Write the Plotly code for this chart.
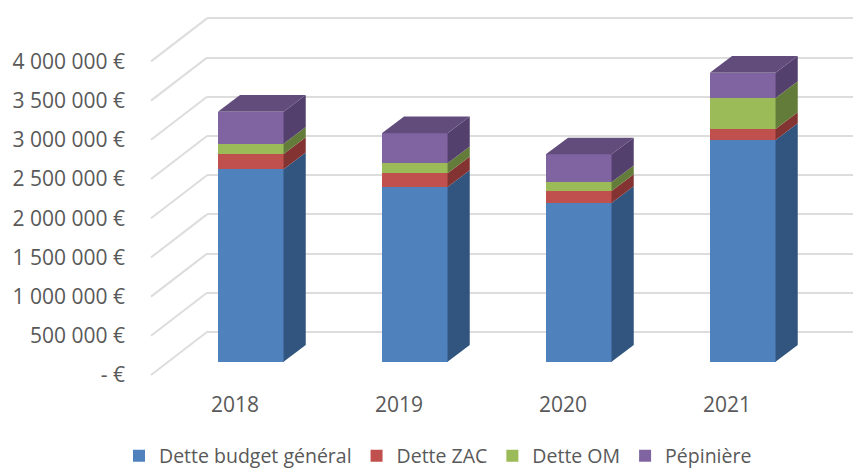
import numpy as np
import plotly.graph_objects as go

# ---- data ----
categories = ["2018", "2019", "2020", "2021"]
dette_budget = [2454000, 2228000, 2024000, 2828000]
dette_zac = [195000, 175000, 153000, 140000]
dette_om = [131000, 128000, 111000, 395000]
pepiniere = [408000, 383000, 357000, 323000]
tick_values = [0, 500000, 1000000, 1500000, 2000000, 2500000, 3000000, 3500000, 4000000]
tick_labels = ["- €", "500\u00a0000 €", "1\u00a0000\u00a0000 €", "1\u00a0500\u00a0000 €", "2\u00a0000\u00a0000 €",
               "2\u00a0500\u00a0000 €", "3\u00a0000\u00a0000 €", "3\u00a0500\u00a0000 €", "4\u00a0000\u00a0000 €"]

series = [
    ("Dette budget général", dette_budget, "#4F81BD", "#31557F", "#3A5F8C"),
    ("Dette ZAC", dette_zac, "#C0504D", "#833331", "#8E3B38"),
    ("Dette OM", dette_om, "#9BBB59", "#647C39", "#728A42"),
    ("Pépinière", pepiniere, "#8064A2", "#54406C", "#624C7C"),
]

# ---- chart geometry ----
W, H = 853, 470
K = 39.2 / 500000          # pixels per euro
X_UNIT = 164.0             # pixels per category
LABEL_X0 = 235.0           # pixel of the first category label
BAR_SHIFT = 15.7 / X_UNIT  # front face sits right of the label
BAR_W = 65.7 / X_UNIT
DX = 22.2 / X_UNIT         # bar depth
DV = 16.7 / K
WALL_Z, LABEL_Z, BAR_Z = 332.0, 375.0, 361.7  # pixel row of zero in each plane
GRID = "#DDDDDD"
TEXT = "#595959"
FONT = "Open Sans"


def yrange(z):
    return [(z - H) / K, z / K]


xr2 = [-LABEL_X0 / X_UNIT, (W - LABEL_X0) / X_UNIT]
x_idx = list(range(len(categories)))

fig = go.Figure()

# diagonal floor-to-wall gridlines
diag_left = (151 - LABEL_X0) / X_UNIT
diag_right = (207 - LABEL_X0) / X_UNIT
diag_rise = (LABEL_Z - WALL_Z) / K
dx_list, dy_list = [], []
for v in tick_values:
    dx_list += [diag_left, diag_right, None]
    dy_list += [v, v + diag_rise, None]
fig.add_trace(go.Scatter(x=dx_list, y=dy_list, mode="lines", xaxis="x2", yaxis="y2",
                         line=dict(color=GRID, width=2), showlegend=False, hoverinfo="skip"))

# front faces
for name, vals, front, side, top in series:
    fig.add_trace(go.Bar(x=x_idx, y=vals, name=name, xaxis="x2", yaxis="y3",
                         width=BAR_W, offset=BAR_SHIFT - BAR_W / 2,
                         marker=dict(color=front, line=dict(width=0))))

# side and top faces, computed from the stacked values
base = np.zeros(len(categories))
for s_i, (name, vals, front, side, top) in enumerate(series):
    tops = base + np.array(vals)
    for i in x_idx:
        xl = i + BAR_SHIFT - BAR_W / 2
        xr = i + BAR_SHIFT + BAR_W / 2
        fig.add_trace(go.Scatter(
            x=[xr, xr + DX, xr + DX, xr, xr],
            y=[base[i], base[i] + DV, tops[i] + DV, tops[i], base[i]],
            mode="lines", fill="toself", fillcolor=side, line=dict(width=0),
            xaxis="x2", yaxis="y3", showlegend=False, hoverinfo="skip"))
        if s_i == len(series) - 1:
            fig.add_trace(go.Scatter(
                x=[xl, xr, xr + DX, xl + DX, xl],
                y=[tops[i], tops[i], tops[i] + DV, tops[i] + DV, tops[i]],
                mode="lines", fill="toself", fillcolor=top, line=dict(width=0),
                xaxis="x2", yaxis="y3", showlegend=False, hoverinfo="skip"))
    base = tops

# invisible trace so the back-wall axes exist
fig.add_trace(go.Scatter(x=[0], y=[0], mode="markers", marker=dict(opacity=0), xaxis="x", yaxis="y",
                         showlegend=False, hoverinfo="skip"))

fig.update_layout(
    width=W, height=H, autosize=False,
    margin=dict(l=0, r=0, t=0, b=0, autoexpand=False),
    paper_bgcolor="white", plot_bgcolor="rgba(0,0,0,0)",
    barmode="stack",
    font=dict(family=FONT, size=19.5, color=TEXT),
    xaxis=dict(domain=[207 / W, 1], range=[0, 1], visible=False, showgrid=False, zeroline=False),
    yaxis=dict(domain=[0, 1], range=yrange(WALL_Z), tickmode="array", tickvals=tick_values,
               showticklabels=False, showgrid=True, gridcolor=GRID, gridwidth=2, zeroline=False,
               ticks="", showline=False, anchor="x"),
    xaxis2=dict(domain=[0, 1], range=xr2, tickmode="array", tickvals=x_idx, ticktext=categories,
                showgrid=False, zeroline=False, showline=False, ticks="",
                anchor="free", position=(H - 390) / H, tickfont=dict(size=21, color=TEXT)),
    yaxis2=dict(domain=[0, 1], range=yrange(LABEL_Z), tickmode="array", tickvals=tick_values,
                ticktext=tick_labels, showgrid=False, zeroline=False, showline=False, ticks="",
                anchor="free", position=125 / W, side="left", tickfont=dict(size=21, color=TEXT)),
    yaxis3=dict(domain=[0, 1], range=yrange(BAR_Z), visible=False, showgrid=False, zeroline=False,
                anchor="x2"),
    legend=dict(orientation="h", x=119 / W, xanchor="left", y=(H - 456) / H, yanchor="middle",
                traceorder="normal", bgcolor="rgba(0,0,0,0)", font=dict(size=19.5, color=TEXT)),
    showlegend=True,
)

fig.write_html("out.html", config={"displayModeBar": False},
               post_script="document.body.style.margin='0';")
